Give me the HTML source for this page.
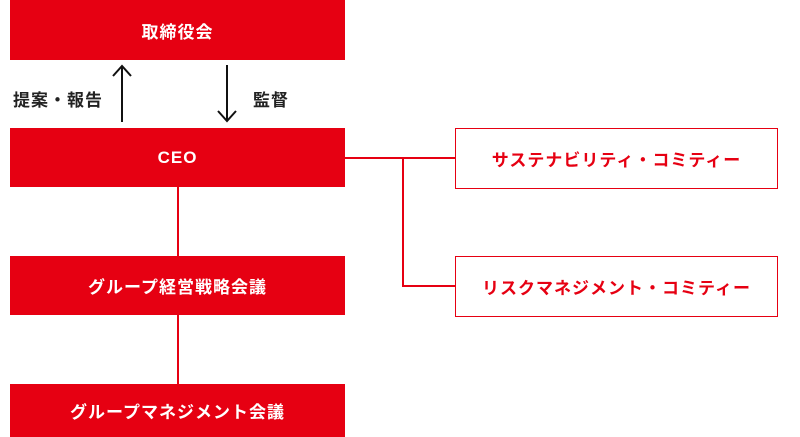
<!DOCTYPE html>
<html><head><meta charset="utf-8"><style>
body{margin:0;width:800px;height:437px;background:#fff;position:relative;overflow:hidden;font-family:"Liberation Sans","Noto Sans CJK JP",sans-serif;font-weight:bold}
.r{position:absolute;left:10px;width:335px;background:#e60012;color:#fff;font-size:17px;letter-spacing:1px;display:flex;align-items:center;justify-content:center}
.o{position:absolute;left:455px;width:323px;height:59px;border:1px solid #e60012;color:#e60012;font-size:17px;letter-spacing:1px;display:flex;align-items:center;justify-content:center;box-sizing:border-box}
.l{position:absolute;background:#e60012}
.t{position:absolute;font-size:17px;letter-spacing:1px;color:#222}
</style></head><body>
<div class="r" style="top:0;height:60px">取締役会</div>
<div class="r" style="top:128px;height:59px">CEO</div>
<div class="r" style="top:256px;height:59px">グループ経営戦略会議</div>
<div class="r" style="top:384px;height:53px">グループマネジメント会議</div>
<div class="o" style="top:128px;height:61px">サステナビリティ・コミティー</div>
<div class="o" style="top:256px;height:61px">リスクマネジメント・コミティー</div>
<div class="l" style="left:177px;top:187px;width:2px;height:69px"></div>
<div class="l" style="left:177px;top:315px;width:2px;height:69px"></div>
<div class="l" style="left:345px;top:157px;width:110px;height:2px"></div>
<div class="l" style="left:402px;top:157px;width:2px;height:130px"></div>
<div class="l" style="left:402px;top:285px;width:53px;height:2px"></div>
<svg style="position:absolute;left:0;top:0" width="800" height="437">
<g stroke="#111" stroke-width="2" fill="none">
<line x1="122" y1="66" x2="122" y2="122"/><polyline points="113,76 122,66 131,76"/>
<line x1="227" y1="65" x2="227" y2="121"/><polyline points="218,111 227,121 236,111"/>
</g></svg>
<div class="t" style="left:13px;top:86px">提案・報告</div>
<div class="t" style="left:253px;top:86px">監督</div>
</body></html>
